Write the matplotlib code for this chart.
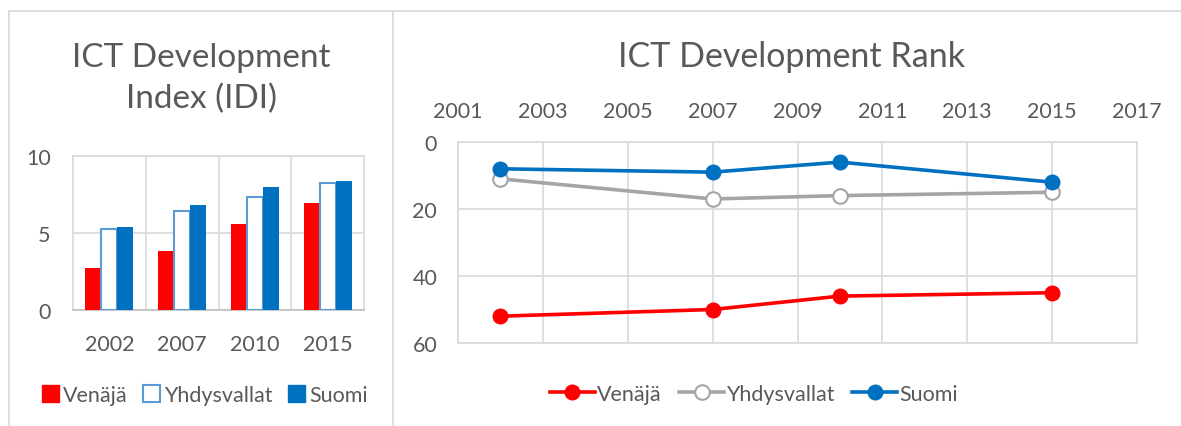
import numpy as np
import matplotlib.pyplot as plt
from matplotlib.lines import Line2D
from matplotlib.patches import Patch

plt.rcParams['font.family'] = ['Lato', 'DejaVu Sans']

# data
countries = ['Venäjä', 'Yhdysvallat', 'Suomi']
idi_years = ['2002', '2007', '2010', '2015']
idi_russia = [2.71, 3.82, 5.57, 6.94]
idi_usa = [5.27, 6.46, 7.33, 8.24]
idi_finland = [5.38, 6.79, 7.98, 8.37]

rank_years = [2002, 2007, 2010, 2015]
rank_russia = [52, 50, 46, 45]
rank_usa = [11, 17, 16, 15]
rank_finland = [8, 9, 6, 12]

RED = '#FF0000'
GREY = '#A5A5A5'
BLUE = '#0070C0'
LBLUE = '#5B9BD5'
TXT = '#595959'
GRID = '#D9D9D9'

W, H = 1181, 427
fig = plt.figure(figsize=(W / 100, H / 100), dpi=100)

def fx(px):
    return px / W

def fy(py):
    return 1 - py / H

# panel frames
fig.add_artist(Line2D([fx(9), 1], [fy(12), fy(12)], color=GRID, lw=1.2))
fig.add_artist(Line2D([fx(9), fx(9)], [fy(12), 0], color=GRID, lw=1.2))
fig.add_artist(Line2D([fx(393), fx(393)], [fy(12), 0], color=GRID, lw=1.2))

# ---- left: bar chart
ax1 = fig.add_axes([fx(73), fy(311), fx(364 - 73), (311 - 157) / H])
x = np.arange(len(idi_years))
bw = 0.22
ax1.bar(x - bw, idi_russia, bw, color=RED, zorder=3)
ax1.bar(x, idi_usa, bw, facecolor='white', edgecolor=LBLUE, lw=1.5, zorder=3)
ax1.bar(x + bw, idi_finland, bw, color=BLUE, zorder=3)
ax1.set_xlim(-0.5, len(idi_years) - 0.5)
ax1.set_ylim(0, 10)
ax1.set_yticks([0, 5, 10])
ax1.set_xticks(x)
ax1.set_xticklabels(idi_years)
ax1.set_xticks(x[:-1] + 0.5, minor=True)
ax1.grid(True, axis='y', color=GRID, lw=1.2, zorder=0)
ax1.grid(True, axis='x', which='minor', color=GRID, lw=1.2, zorder=0)
ax1.tick_params(which='both', length=0)
ax1.tick_params(axis='x', pad=17, labelsize=15.5, labelcolor=TXT)
ax1.tick_params(axis='y', pad=16, labelsize=15.5, labelcolor=TXT)
for s in ['left', 'right', 'top']:
    ax1.spines[s].set_color(GRID)
    ax1.spines[s].set_linewidth(1.2)
ax1.spines['bottom'].set_color('#BFBFBF')
ax1.spines['bottom'].set_linewidth(1.2)

fig.text(fx(201), fy(67), 'ICT Development', ha='center', va='baseline',
         fontsize=24, color=TXT)
fig.text(fx(201), fy(108), 'Index (IDI)', ha='center', va='baseline',
         fontsize=24, color=TXT)

handles1 = [Patch(facecolor=RED, edgecolor=RED),
            Patch(facecolor='white', edgecolor=LBLUE, lw=1.5),
            Patch(facecolor=BLUE, edgecolor=BLUE)]
fig.legend(handles1, countries, loc='center', bbox_to_anchor=(fx(205), fy(396)),
           ncol=3, frameon=False, fontsize=15.5, labelcolor=TXT,
           handlelength=0.8, handleheight=0.8, handletextpad=0.2, columnspacing=0.7)

# ---- right: line chart
ax2 = fig.add_axes([fx(458), fy(344), fx(1137 - 458), (344 - 143) / H])
ax2.plot(rank_years, rank_russia, color=RED, lw=2.6, marker='o', ms=10.5,
         label=countries[0], zorder=3)
ax2.plot(rank_years, rank_usa, color=GREY, lw=2.6, marker='o', ms=10.5,
         mfc='white', mec=GREY, mew=1.5, label=countries[1], zorder=3)
ax2.plot(rank_years, rank_finland, color=BLUE, lw=2.6, marker='o', ms=10.5,
         label=countries[2], zorder=3)
ax2.set_xlim(2001, 2017)
ax2.set_ylim(60, 0)
ax2.set_xticks(range(2001, 2018, 2))
ax2.set_yticks([0, 20, 40, 60])
ax2.xaxis.tick_top()
ax2.grid(True, color=GRID, lw=1.2, zorder=0)
ax2.tick_params(length=0, labelsize=15.5, labelcolor=TXT)
ax2.tick_params(axis='x', pad=15)
ax2.tick_params(axis='y', pad=15)
for s in ax2.spines.values():
    s.set_color(GRID)
    s.set_linewidth(1.2)

fig.text(fx(792), fy(67), 'ICT Development Rank', ha='center', va='baseline',
         fontsize=24.5, color=TXT)

fig.legend(*ax2.get_legend_handles_labels(), loc='center',
           bbox_to_anchor=(fx(754), fy(395)), ncol=3, frameon=False,
           fontsize=15.5, labelcolor=TXT, handlelength=2.1, handletextpad=0.1,
           columnspacing=0.8)

fig.savefig('out.png', dpi=100)
